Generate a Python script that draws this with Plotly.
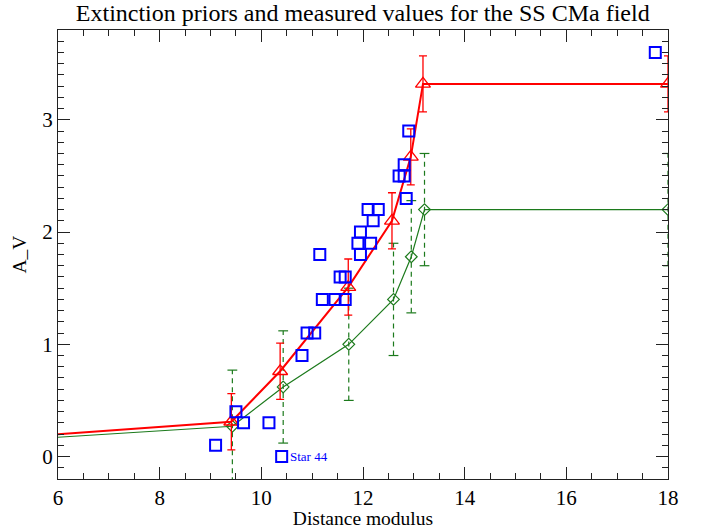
import plotly.graph_objects as go

# Measured values (blue squares)
star_dm = [9.10, 9.50, 9.65, 10.15, 10.40, 10.80, 10.90, 11.05, 11.15, 11.20, 11.45,
           11.65, 11.55, 11.65, 11.95, 11.90, 12.15, 11.95, 12.20, 12.10, 12.30,
           12.71, 12.81, 12.81, 12.85, 12.90, 17.75]
star_av = [0.10, 0.40, 0.30, 0.30, 0.00, 0.90, 1.10, 1.10, 1.80, 1.40, 1.40,
           1.40, 1.60, 1.60, 1.80, 1.90, 1.90, 2.00, 2.10, 2.20, 2.20,
           2.50, 2.50, 2.60, 2.30, 2.90, 3.60]

# Red prior (triangles)
red_dm = [0.0, 9.41, 10.37, 11.71, 12.57, 12.94, 13.18, 18.0]
red_av = [0.0, 0.31, 0.76, 1.51, 2.10, 2.67, 3.32, 3.32]
red_err = [0.0, 0.25, 0.25, 0.25, 0.25, 0.25, 0.25, 0.25]

# Green prior (diamonds)
grn_dm = [0.0, 9.43, 10.43, 11.72, 12.60, 12.95, 13.21, 18.0]
grn_av = [0.0, 0.27, 0.62, 1.00, 1.40, 1.78, 2.20, 2.20]
grn_err = [0.0, 0.5, 0.5, 0.5, 0.5, 0.5, 0.5, 0.5]

RED = "#ff0000"
GRN = "#1c7a1c"
BLUE = "#0000ff"
FONT = "Liberation Serif"

fig = go.Figure()

# green dashed error bars
ex, ey, cx, cy = [], [], [], []
for x, y, e in zip(grn_dm[1:], grn_av[1:], grn_err[1:]):
    ex += [x, x, None]
    ey += [y - e, y + e, None]
    cx += [x, x]
    cy += [y - e, y + e]
fig.add_trace(go.Scatter(x=ex, y=ey, mode="lines",
                         line=dict(color=GRN, width=1.2, dash="5px,4px"),
                         hoverinfo="skip", showlegend=False))
fig.add_trace(go.Scatter(x=cx, y=cy, mode="markers",
                         marker=dict(symbol="line-ew-open", size=7, color=GRN,
                                     line=dict(color=GRN, width=1.2)),
                         hoverinfo="skip", showlegend=False))

# green line + diamonds
fig.add_trace(go.Scatter(x=grn_dm, y=grn_av, mode="lines+markers",
                         line=dict(color=GRN, width=1.2),
                         marker=dict(symbol="diamond-open", size=9, color=GRN,
                                     line=dict(color=GRN, width=1.2)),
                         showlegend=False))

# red line + triangles + error bars
fig.add_trace(go.Scatter(x=red_dm, y=red_av, mode="lines+markers",
                         line=dict(color=RED, width=2),
                         marker=dict(symbol="triangle-up-open", size=13, color=RED,
                                     line=dict(color=RED, width=1.3)),
                         error_y=dict(type="data", array=red_err, visible=True,
                                      color=RED, thickness=1.3, width=4),
                         showlegend=False))

# blue squares
fig.add_trace(go.Scatter(x=star_dm, y=star_av, mode="markers",
                         marker=dict(symbol="square-open", size=11, color=BLUE,
                                     line=dict(color=BLUE, width=2)),
                         showlegend=False))

fig.add_annotation(x=10.40, y=0.0, text="Star 44", showarrow=False,
                   xanchor="left", yanchor="middle", xshift=6,
                   font=dict(family=FONT, size=13, color=BLUE))

axis_common = dict(showgrid=False, zeroline=False, showline=True,
                   linecolor="#222222", linewidth=1, mirror="ticks",
                   ticks="inside", ticklen=12, tickwidth=1, tickcolor="#222222",
                   automargin=False,
                   tickfont=dict(family=FONT, size=21, color="black"))

fig.update_xaxes(range=[6, 18], tick0=6, dtick=2,
                 minor=dict(dtick=0.5, ticks="inside", ticklen=6,
                            tickcolor="#222222", tickwidth=1),
                 title=dict(text="Distance modulus",
                            font=dict(family=FONT, size=19.5, color="black"),
                            standoff=0),
                 **axis_common)
fig.update_yaxes(range=[-0.2, 3.8], tick0=0, dtick=1,
                 minor=dict(dtick=0.1, ticks="inside", ticklen=6,
                            tickcolor="#222222", tickwidth=1),
                 title=dict(text="A_V",
                            font=dict(family=FONT, size=19.5, color="black"),
                            standoff=10),
                 **axis_common)

fig.update_layout(
    width=703, height=529,
    margin=dict(l=58, r=35, t=30, b=50),
    paper_bgcolor="white", plot_bgcolor="white",
    title=dict(text="Extinction priors and measured values for the SS CMa field",
               x=0.516, xanchor="center", y=0.977, yanchor="middle",
               font=dict(family=FONT, size=24, color="black")),
)

fig.write_html("out.html")
